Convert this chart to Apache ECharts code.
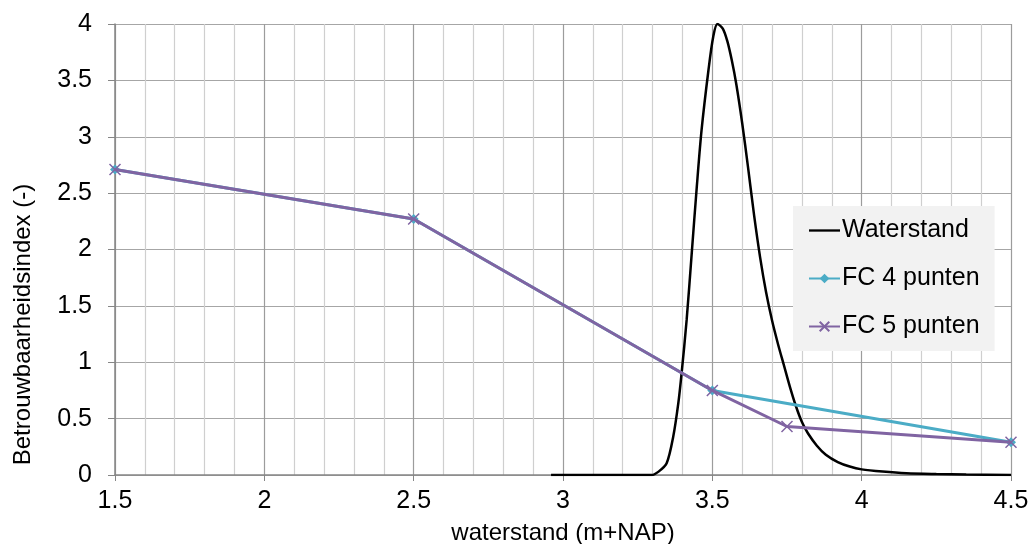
<!DOCTYPE html>
<html>
<head>
<meta charset="utf-8">
<script src="https://cdn.jsdelivr.net/npm/echarts@6/dist/echarts.min.js"></script>
<style>
  html, body { margin: 0; padding: 0; background: #fff; }
  #chart { width: 1029px; height: 544px; }
</style>
</head>
<body>
<div id="chart"></div>
<script>
// waterstand (m+NAP) / kansdichtheid
var waterstandX = [2.96, 3.10, 3.20, 3.297, 3.32, 3.347, 3.369, 3.386, 3.397, 3.414, 3.431, 3.448, 3.464, 3.487,
  3.503, 3.517, 3.535, 3.55, 3.565, 3.58, 3.60, 3.62, 3.64, 3.66, 3.68, 3.70, 3.72, 3.74, 3.76, 3.78,
  3.80, 3.82, 3.85, 3.88, 3.92, 3.96, 4.00, 4.07, 4.15, 4.25, 4.35, 4.50];
var waterstandY = [0, 0, 0, 0, 0.03, 0.104, 0.34, 0.636, 0.90, 1.375, 1.966, 2.557, 3.06, 3.59,
  3.887, 4.00, 3.96, 3.85, 3.68, 3.47, 3.12, 2.72, 2.30, 1.93, 1.62, 1.37, 1.16, 0.97, 0.78, 0.61,
  0.47, 0.37, 0.26, 0.18, 0.115, 0.075, 0.05, 0.03, 0.015, 0.008, 0.004, 0];

// betrouwbaarheidsindex
var fc4X = [1.5, 2.5, 3.5, 4.5];
var fc4Y = [2.71, 2.27, 0.75, 0.29];
var fc5X = [1.5, 2.5, 3.5, 3.75, 4.5];
var fc5Y = [2.71, 2.27, 0.75, 0.43, 0.29];

function pairs(xs, ys) {
  return xs.map(function (x, i) { return [x, ys[i]]; });
}

var font = "'Liberation Sans', Arial, sans-serif";
var chart = echarts.init(document.getElementById('chart'));

chart.setOption({
  animation: false,
  textStyle: { fontFamily: font },
  grid: { left: 115, right: 18, top: 24, bottom: 69, containLabel: false, outerBoundsMode: 'none' },
  legend: {
    orient: 'vertical',
    left: 793,
    top: 206,
    backgroundColor: '#f2f2f2',
    padding: [12, 15, 12, 15],
    itemWidth: 31,
    itemHeight: 12,
    itemGap: 23,
    textStyle: { fontSize: 25, color: '#000', fontFamily: font, padding: [0, 0, 0, -3] },
    data: [
      { name: 'Waterstand', icon: 'path://M0,0H40V3H0Z' },
      'FC 4 punten',
      'FC 5 punten'
    ]
  },
  xAxis: {
    type: 'value',
    min: 1.5,
    max: 4.5,
    interval: 0.5,
    name: 'waterstand (m+NAP)',
    nameLocation: 'middle',
    nameGap: 46,
    nameTextStyle: { fontSize: 24, color: '#000', fontFamily: font },
    axisLine: { show: true, onZero: false, lineStyle: { color: '#868686', width: 1.5 } },
    axisTick: { show: true, inside: false, length: 6, lineStyle: { color: '#868686' } },
    axisLabel: { fontSize: 25, color: '#000', margin: 14, fontFamily: font,
      formatter: function (v) { return String(v); } },
    splitLine: { show: true, lineStyle: { color: '#9c9c9c', width: 1.2 } },
    minorTick: { show: false, splitNumber: 5 },
    minorSplitLine: { show: true, lineStyle: { color: '#cfcfcf', width: 1.2 } }
  },
  yAxis: {
    type: 'value',
    min: 0,
    max: 4,
    interval: 0.5,
    name: 'Betrouwbaarheidsindex (-)',
    nameLocation: 'middle',
    nameGap: 80,
    nameTextStyle: { fontSize: 24, color: '#000', fontFamily: font, padding: [0, 150, 0, 0] },
    axisLine: { show: true, lineStyle: { color: '#868686', width: 1.5 } },
    axisTick: { show: true, inside: false, length: 7, lineStyle: { color: '#868686' } },
    axisLabel: { fontSize: 25, color: '#000', margin: 23, fontFamily: font },
    splitLine: { show: true, lineStyle: { color: '#a6a6a6', width: 1.2 } }
  },
  series: [
    {
      name: 'Waterstand',
      type: 'line',
      data: pairs(waterstandX, waterstandY),
      symbol: 'none',
      smooth: 0.3,
      lineStyle: { color: '#000', width: 2.5 },
      itemStyle: { color: '#000' },
      z: 3
    },
    {
      name: 'FC 4 punten',
      type: 'line',
      data: pairs(fc4X, fc4Y),
      symbol: 'diamond',
      symbolSize: 10,
      showAllSymbol: true,
      lineStyle: { color: '#4BACC6', width: 3 },
      itemStyle: { color: '#4BACC6' },
      z: 4
    },
    {
      name: 'FC 5 punten',
      type: 'line',
      data: pairs(fc5X, fc5Y),
      symbol: 'path://M0,0L10,10M10,0L0,10',
      symbolSize: 11,
      showAllSymbol: true,
      lineStyle: { color: '#8064A2', width: 3 },
      itemStyle: { color: 'rgba(0,0,0,0)', borderColor: '#8064A2', borderWidth: 1.5 },
      z: 5
    }
  ]
});
</script>
</body>
</html>
